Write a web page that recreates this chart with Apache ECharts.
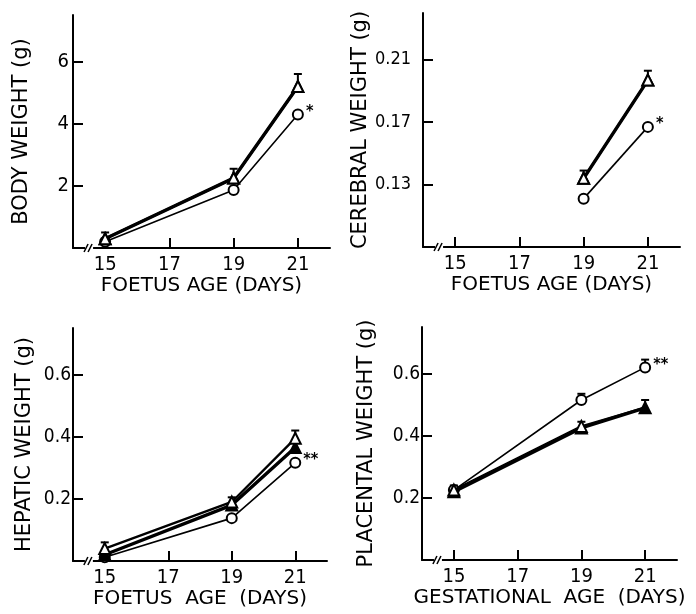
<!DOCTYPE html>
<html>
<head>
<meta charset="utf-8">
<script src="https://cdn.jsdelivr.net/npm/echarts@6/dist/echarts.min.js"></script>
<style>
  html, body { margin: 0; padding: 0; background: #fff; }
  #chart { width: 696px; height: 614px; }
</style>
</head>
<body>
<div id="chart"></div>
<script>
// ---- data ----
const xTicks = [15, 17, 19, 21]
const days = [15, 19, 21]
const cerebralDays = [19, 21]
const breakAt = 14.5

// body weight (g)
const bodyTicks = [2, 4, 6]
const bodyControl = [0.2, 1.87, 4.3]
const bodyTreated = [0.3, 2.25, 5.2]
const bodyTreatedErr = [0.2, 0.3, 0.4]
const bodyMarks = ['', '', '*']

// cerebral weight (g)
const cerebralTicks = [0.13, 0.17, 0.21]
const cerebralControl = [0.121, 0.167]
const cerebralTreated = [0.134, 0.197]
const cerebralTreatedErr = [0.005, 0.006]
const cerebralMarks = ['', '*']

// hepatic weight (g)
const hepaticTicks = [0.2, 0.4, 0.6]
const hepaticControl = [0.012, 0.138, 0.316]
const hepaticOpen = [0.04, 0.19, 0.395]
const hepaticFilled = [0.02, 0.18, 0.365]
const hepaticOpenErr = [0.02, 0.015, 0.025]
const hepaticMarks = ['', '', '**']

// placental weight (g)
const placentalTicks = [0.2, 0.4, 0.6]
const placentalControl = [0.225, 0.515, 0.62]
const placentalControlErr = [0, 0.02, 0.025]
const placentalOpen = [0.225, 0.43, 0.49]
const placentalOpenErr = [0.015, 0.015, 0]
const placentalFilled = [0.22, 0.425, 0.49]
const placentalFilledErr = [0, 0, 0.025]
const placentalMarks = ['', '', '**']

const FONT = '"DejaVu Sans Condensed", "DejaVu Sans", sans-serif'
const NAME_FONT = '"DejaVu Sans", sans-serif'

const chart = echarts.init(document.getElementById('chart'))

function pts(xs, ys, marks, hideLast) {
  return xs.map((x, i) => {
    const item = { value: [x, ys[i]] }
    if (marks && marks[i]) {
      item.label = {
        show: true, formatter: marks[i], position: 'right', distance: 2,
        offset: [0, -3], color: '#000', fontSize: 16, fontWeight: 'bold', fontFamily: FONT
      }
    }
    if (hideLast && i === xs.length - 1) item.symbol = 'none'
    return item
  })
}

function errPts(xs, ys, errs) {
  return xs.map((x, i) => [x, ys[i], ys[i] + errs[i]]).filter((d, i) => errs[i] > 0)
}

function lineSeries(idx, xs, ys, kind, marks, hideLast) {
  const styles = {
    control: { symbol: 'circle', width: 1.6, fill: '#fff', size: 10, z: 3 },
    filled: { symbol: 'triangle', width: 3.4, fill: '#000', size: 11, z: 4 },
    open: { symbol: 'triangle', width: 2.4, fill: '#fff', size: 11, z: 5 }
  }
  const s = styles[kind]
  return {
    type: 'line', xAxisIndex: idx, yAxisIndex: idx, z: s.z,
    data: pts(xs, ys, marks, hideLast),
    symbol: s.symbol, symbolSize: s.size,
    lineStyle: { color: '#000', width: s.width },
    itemStyle: { color: s.fill, borderColor: '#000', borderWidth: 2 },
    animation: false
  }
}

function errorSeries(idx, xs, ys, errs) {
  return {
    type: 'custom', xAxisIndex: idx, yAxisIndex: idx, z: 2,
    data: errPts(xs, ys, errs),
    renderItem: function (params, api) {
      const lo = api.coord([api.value(0), api.value(1)])
      const hi = api.coord([api.value(0), api.value(2)])
      const st = { stroke: '#000', lineWidth: 2 }
      return {
        type: 'group',
        children: [
          { type: 'line', shape: { x1: lo[0], y1: lo[1], x2: hi[0], y2: hi[1] }, style: st },
          { type: 'line', shape: { x1: hi[0] - 4, y1: hi[1], x2: hi[0] + 4, y2: hi[1] }, style: st }
        ]
      }
    },
    animation: false
  }
}

function breakSeries(idx, yMin) {
  return {
    type: 'custom', xAxisIndex: idx, yAxisIndex: idx, z: 6, clip: false,
    data: [[breakAt, yMin]],
    renderItem: function (params, api) {
      const p = api.coord([api.value(0), api.value(1)])
      const st = { stroke: '#000', lineWidth: 1.5 }
      return {
        type: 'group',
        children: [
          { type: 'rect', shape: { x: p[0] - 4, y: p[1] - 2, width: 8, height: 4 }, style: { fill: '#fff' } },
          { type: 'line', shape: { x1: p[0] - 5, y1: p[1] + 4, x2: p[0] - 1, y2: p[1] - 4 }, style: st },
          { type: 'line', shape: { x1: p[0] - 1, y1: p[1] + 4, x2: p[0] + 3, y2: p[1] - 4 }, style: st }
        ]
      }
    },
    animation: false
  }
}

function xAxis(idx, name) {
  return {
    type: 'value', gridIndex: idx, min: 14, max: 22,
    axisLine: { lineStyle: { color: '#000', width: 2 } },
    axisTick: { inside: true, length: 10, customValues: xTicks, lineStyle: { color: '#000', width: 2 } },
    axisLabel: { customValues: xTicks, color: '#000', fontSize: 20, margin: 7, fontFamily: FONT },
    splitLine: { show: false },
    name: name, nameLocation: 'middle', nameGap: 21,
    nameTextStyle: { color: '#000', fontSize: 20, fontFamily: NAME_FONT }
  }
}

function yAxis(idx, name, min, max, ticks, digits, gap, margin, fs) {
  return {
    type: 'value', gridIndex: idx, min: min, max: max,
    axisLine: { show: true, lineStyle: { color: '#000', width: 2 } },
    axisTick: { show: true, inside: true, length: 10, customValues: ticks, lineStyle: { color: '#000', width: 2 } },
    axisLabel: {
      customValues: ticks, color: '#000', fontSize: fs, margin: margin, fontFamily: FONT,
      formatter: v => v.toFixed(digits)
    },
    splitLine: { show: false },
    name: name, nameLocation: 'middle', nameGap: gap, nameRotate: 90,
    nameTextStyle: { color: '#000', fontSize: 21, fontFamily: NAME_FONT }
  }
}

const option = {
  backgroundColor: '#fff',
  animation: false,
  grid: [
    { left: 73, right: 366, top: 15, bottom: 366 },
    { left: 423, right: 16, top: 13, bottom: 367 },
    { left: 73, right: 369, top: 328, bottom: 53 },
    { left: 422, right: 19, top: 327, bottom: 54 }
  ],
  xAxis: [
    xAxis(0, 'FOETUS AGE (DAYS)'),
    xAxis(1, 'FOETUS AGE (DAYS)'),
    xAxis(2, 'FOETUS  AGE  (DAYS)'),
    xAxis(3, 'GESTATIONAL  AGE  (DAYS)')
  ],
  yAxis: [
    yAxis(0, 'BODY WEIGHT (g)', 0, 7.5, bodyTicks, 0, 41, 4, 20),
    yAxis(1, 'CEREBRAL WEIGHT (g)', 0.09, 0.24, cerebralTicks, 2, 41, 12, 18),
    yAxis(2, 'HEPATIC WEIGHT (g)', 0, 0.75, hepaticTicks, 1, 38, 2, 19),
    yAxis(3, 'PLACENTAL WEIGHT (g)', 0, 0.75, placentalTicks, 1, 45, 2, 19)
  ],
  series: [
    // body
    errorSeries(0, days, bodyTreated, bodyTreatedErr),
    lineSeries(0, days, bodyControl, 'control', bodyMarks),
    lineSeries(0, days, bodyTreated, 'filled'),
    lineSeries(0, days, bodyTreated, 'open'),
    breakSeries(0, 0),
    // cerebral
    errorSeries(1, cerebralDays, cerebralTreated, cerebralTreatedErr),
    lineSeries(1, cerebralDays, cerebralControl, 'control', cerebralMarks),
    lineSeries(1, cerebralDays, cerebralTreated, 'filled'),
    lineSeries(1, cerebralDays, cerebralTreated, 'open'),
    breakSeries(1, 0.09),
    // hepatic
    errorSeries(2, days, hepaticOpen, hepaticOpenErr),
    lineSeries(2, days, hepaticControl, 'control', hepaticMarks),
    lineSeries(2, days, hepaticFilled, 'filled'),
    lineSeries(2, days, hepaticOpen, 'open'),
    breakSeries(2, 0),
    // placental
    errorSeries(3, days, placentalControl, placentalControlErr),
    errorSeries(3, days, placentalOpen, placentalOpenErr),
    errorSeries(3, days, placentalFilled, placentalFilledErr),
    lineSeries(3, days, placentalControl, 'control', placentalMarks),
    lineSeries(3, days, placentalFilled, 'filled'),
    lineSeries(3, days, placentalOpen, 'open', null, true),
    breakSeries(3, 0)
  ]
}

chart.setOption(option)
</script>
</body>
</html>
